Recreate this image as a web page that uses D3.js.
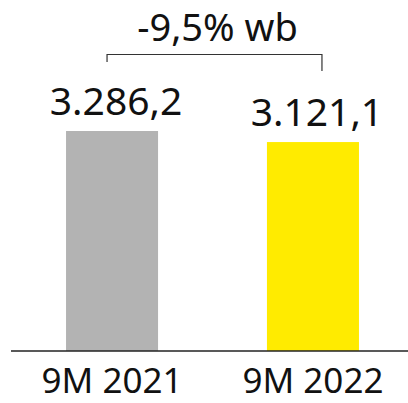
<!DOCTYPE html>
<html>
<head>
<meta charset="utf-8">
<script src="https://cdn.jsdelivr.net/npm/d3@7"></script>
<style>
  body { margin: 0; background: #fff; }
  text { font-family: "Noto Sans", sans-serif; fill: #111; }
</style>
</head>
<body>
<div id="chart"></div>
<script>
// data
const categories = ["9M 2021", "9M 2022"];
const values = [3286.2, 3121.1];
const valueLabels = ["3.286,2", "3.121,1"];
const changeLabel = "-9,5% wb";
const colors = ["#b3b3b3", "#ffeb00"];

const width = 408;
const height = 403;
const baseY = 351;

const svg = d3.select("#chart")
  .append("svg")
  .attr("width", width)
  .attr("height", height);

const x = d3.scaleBand()
  .domain(categories)
  .range([14, 411])
  .paddingInner(0.542)
  .paddingOuter(0.259);

const y = d3.scaleLinear()
  .domain([0, 3600])
  .range([baseY, 110]);

// bars
svg.selectAll("rect.bar")
  .data(values)
  .enter()
  .append("rect")
  .attr("class", "bar")
  .attr("x", (d, i) => x(categories[i]))
  .attr("y", d => y(d))
  .attr("width", x.bandwidth())
  .attr("height", d => y(0) - y(d))
  .attr("fill", (d, i) => colors[i]);

// value labels
svg.selectAll("text.val")
  .data(values)
  .enter()
  .append("text")
  .attr("class", "val")
  .attr("x", (d, i) => x(categories[i]) + x.bandwidth() / 2 + 4)
  .attr("y", d => y(d) - 16)
  .attr("text-anchor", "middle")
  .style("font-size", "39px")
  .text((d, i) => valueLabels[i]);

// x axis
const xAxis = svg.append("g")
  .attr("transform", `translate(0,${baseY})`)
  .call(d3.axisBottom(x).tickSize(0).tickPadding(0));
xAxis.select(".domain")
  .attr("d", `M11,0H${width}`)
  .attr("stroke", "#222")
  .attr("stroke-width", 1.5);
xAxis.selectAll("text")
  .attr("dy", null)
  .attr("y", 41.5)
  .style("font-size", "35px")
  .attr("fill", "#111");

// bracket + change label
const x1 = x(categories[0]) + x.bandwidth() / 2 - 5;
const x2 = x(categories[1]) + x.bandwidth() / 2 + 9;
const bY = 54.5;
svg.append("path")
  .attr("d", `M${x1},62V${bY}H${x2}V71`)
  .attr("fill", "none")
  .attr("stroke", "#333")
  .attr("stroke-width", 1.2);

svg.append("text")
  .attr("x", (x1 + x2) / 2 + 3)
  .attr("y", 41)
  .attr("text-anchor", "middle")
  .style("font-size", "38px")
  .text(changeLabel);
</script>
</body>
</html>
